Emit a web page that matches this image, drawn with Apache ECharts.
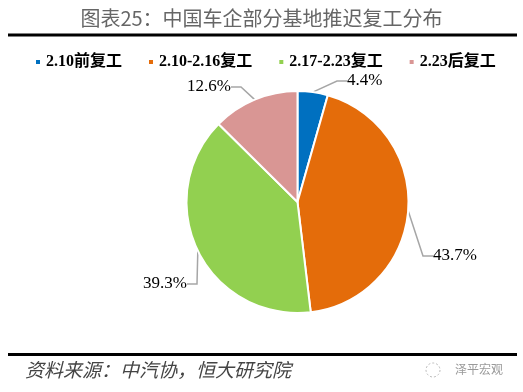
<!DOCTYPE html>
<html>
<head>
<meta charset="utf-8">
<script src="https://cdn.jsdelivr.net/npm/echarts@6/dist/echarts.min.js"></script>
<style>
html,body{margin:0;padding:0;background:#fff;}
#chart{width:523px;height:392px;}
</style>
</head>
<body>
<div id="chart"></div>
<script>
var titleText = '图表25：中国车企部分基地推迟复工分布';
var sourceText = '资料来源：中汽协，恒大研究院';
var watermarkText = '泽平宏观';
var categories = ['2.10前复工', '2.10-2.16复工', '2.17-2.23复工', '2.23后复工'];
var values = [4.4, 43.7, 39.3, 12.6];
var colors = ['#0070C0', '#E46C0A', '#92D050', '#D99694'];

var chart = echarts.init(document.getElementById('chart'), null, {renderer: 'canvas'});

var labelPos = [
  {x: 347, y: 81, align: 'left'},
  {x: 433, y: 256, align: 'left'},
  {x: 187, y: 284, align: 'right'},
  {x: 231, y: 87, align: 'right'}
];

var option = {
  backgroundColor: '#fff',
  animation: false,
  color: colors,
  legend: {
    data: categories,
    left: 29,
    top: 49,
    icon: 'rect',
    itemWidth: 6,
    itemHeight: 6,
    itemGap: 25,
    textStyle: {
      fontFamily: "'Liberation Serif', 'Noto Sans CJK SC'",
      fontWeight: 'bold',
      fontSize: 16,
      color: '#000'
    }
  },
  graphic: [
    {type: 'text', left: 'center', top: 8, style: {text: titleText, fontFamily: "'Noto Sans CJK SC'", fontSize: 20, fill: '#666'}},
    {type: 'rect', shape: {x: 8, y: 33.5, width: 509, height: 3}, style: {fill: '#000'}},
    {type: 'rect', shape: {x: 8, y: 353, width: 509, height: 3}, style: {fill: '#000'}},
    {type: 'text', left: 25, top: 360, style: {text: sourceText, fontFamily: "'Noto Sans CJK SC'", fontStyle: 'italic', fontSize: 19, fill: '#444'}},
    {type: 'circle', shape: {cx: 433, cy: 370, r: 7}, style: {fill: 'none', stroke: '#bbb', lineWidth: 1, lineDash: [2, 2]}},
    {type: 'text', left: 455, top: 363, style: {text: watermarkText, fontFamily: "'Noto Sans CJK SC'", fontSize: 12, fill: '#999'}}
  ],
  series: [{
    type: 'pie',
    center: [297.5, 202],
    radius: 111,
    startAngle: 90,
    clockwise: true,
    avoidLabelOverlap: false,
    data: categories.map(function (c, i) { return {name: c, value: values[i]}; }),
    itemStyle: {borderColor: '#fff', borderWidth: 2},
    label: {
      show: true,
      position: 'outside',
      formatter: function (p) { return p.value.toFixed(1) + '%'; },
      fontFamily: "'Liberation Serif'",
      fontSize: 17,
      color: '#000'
    },
    labelLine: {show: true, length: 15, length2: 10, lineStyle: {color: '#A6A6A6', width: 1.5}},
    labelLayout: function (params) {
      var p = labelPos[params.dataIndex];
      return {x: p.x, y: p.y, align: p.align, verticalAlign: 'middle'};
    }
  }]
};
chart.setOption(option);
</script>
</body>
</html>
